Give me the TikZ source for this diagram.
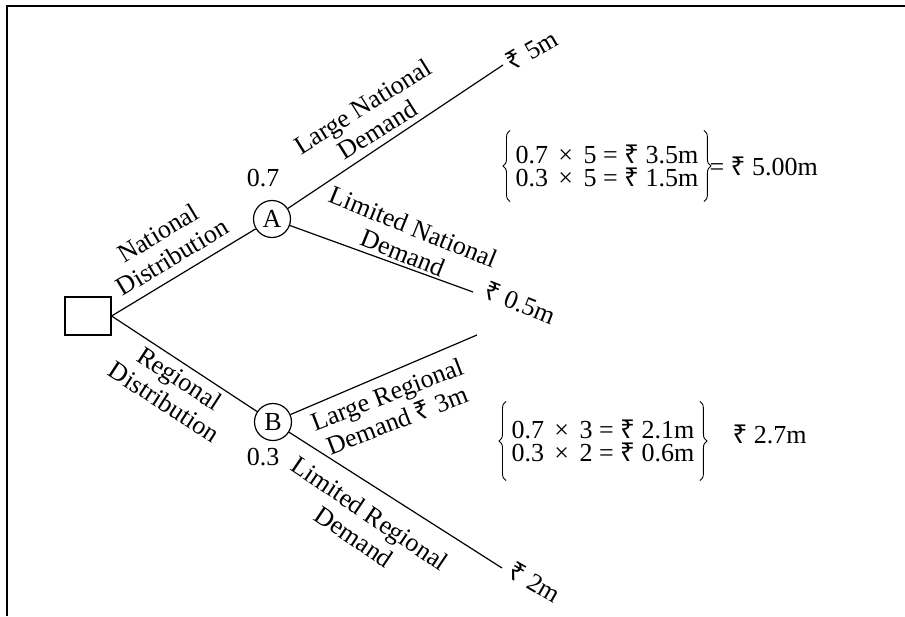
\documentclass[tikz,border=0pt]{standalone}
\usepackage{fontspec}
\setmainfont{Liberation Serif}
\newfontfamily\rsfont{Noto Sans}
\newcommand\Rs{{\rsfont ₹}}
\newcommand\tms{\hspace{0.4em}×\hspace{0.4em}}
\usetikzlibrary{decorations.pathreplacing}
\begin{document}
\begin{tikzpicture}[x=1pt,y=-1pt, line width=1.2pt,
  lbl/.style={font=\fontsize{26}{28}\selectfont, align=center, inner sep=0pt},
  chance/.style={circle, draw, minimum size=37pt, inner sep=0pt, font=\fontsize{26}{26}\selectfont},
  decision/.style={draw, minimum width=46pt, minimum height=38pt, inner sep=0pt},
  eq/.style={font=\fontsize{26}{23.5}\selectfont, inner ysep=0pt, inner xsep=0pt, anchor=west, align=left},
  curly/.style={decorate, decoration={brace, amplitude=7pt}, line width=0.9pt}]
\useasboundingbox (0,0) rectangle (905,616);
\draw (7,616) -- (7,6) -- (905,6);
\node[decision] (D) at (88,316) {};
\node[chance] (A) at (272,219) {A};
\node[chance] (B) at (273,422) {B};
\coordinate (e1) at (503,65);
\coordinate (e2) at (473,292);
\coordinate (e3) at (477,335);
\coordinate (e4) at (502,568);
\draw (D.east) -- (A);
\draw (D.east) -- (B);
\draw (A) -- (e1);
\draw (A) -- (e2);
\draw (B) -- (e3);
\draw (B) -- (e4);
\node[lbl, rotate=31] (l1) at (165,245) {National\\Distribution};
\node[lbl, rotate=-33] (l2) at (172,390) {Regional\\Distribution};
\node[lbl, rotate=32] (l3) at (370,118) {Large National\\Demand};
\node[lbl, rotate=-22] (l4) at (408,240) {Limited National\\Demand};
\node[lbl, rotate=21] (l5) at (392,407) {Large Regional\\Demand \Rs\ 3m};
\node[lbl, rotate=-34] (l6) at (362,525) {Limited Regional\\Demand};
\node[lbl, rotate=30] (v1) at (532,50) {\Rs\ 5m};
\node[lbl, rotate=-22] (v2) at (520,303) {\Rs\ 0.5m};
\node[lbl, rotate=-30] (v4) at (535,582) {\Rs\ 2m};
\node[lbl] (p1) at (263,178) {0.7};
\node[lbl] (p2) at (263,457) {0.3};
\node[eq, minimum height=70pt] (q1) at (515,166) {0.7\tms 5 = \Rs\ 3.5m\\0.3\tms 5 = \Rs\ 1.5m};
\draw[curly] ([xshift=-5pt]q1.south west) -- ([xshift=-5pt]q1.north west);
\draw[curly] ([xshift=5pt]q1.north east) -- ([xshift=5pt]q1.south east);
\node[eq] (r1) at ([xshift=10pt]q1.east) {= \Rs\ 5.00m};
\node[eq, minimum height=78pt] (q2) at (511,441) {0.7\tms 3 = \Rs\ 2.1m\\0.3\tms 2 = \Rs\ 0.6m};
\draw[curly] ([xshift=-5pt]q2.south west) -- ([xshift=-5pt]q2.north west);
\draw[curly] ([xshift=5pt]q2.north east) -- ([xshift=5pt]q2.south east);
\node[eq] (r2) at (732,434) {\Rs\ 2.7m};
\end{tikzpicture}
\end{document}
